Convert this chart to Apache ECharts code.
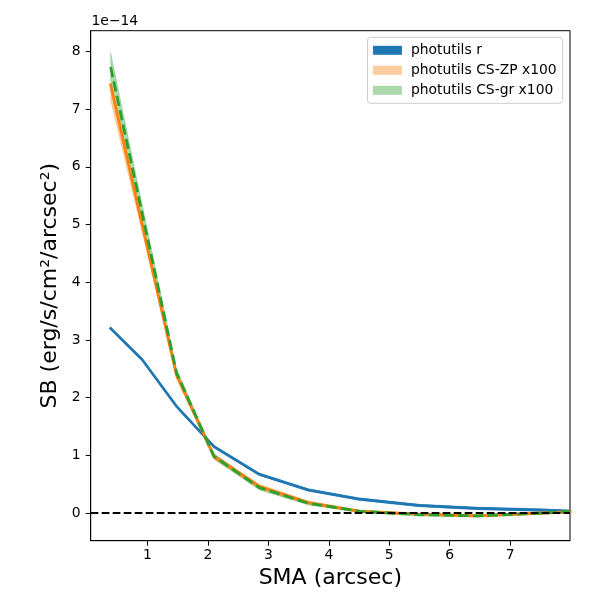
<!DOCTYPE html>
<html>
<head>
<meta charset="utf-8">
<script src="https://cdn.jsdelivr.net/npm/echarts@6/dist/echarts.min.js"></script>
<style>
  html, body { margin: 0; padding: 0; background: #fff; }
  #container { width: 600px; height: 600px; }
</style>
</head>
<body>
<div id="container"></div>
<script>
// SMA (arcsec) of the isophotes
const sma = [0.39, 0.91, 1.48, 2.10, 2.85, 3.66, 4.51, 5.50, 6.45, 7.55, 7.99];

// photutils r (units of 1e-14)
const rFlux = [3.20, 2.66, 1.85, 1.15, 0.67, 0.40, 0.24, 0.13, 0.08, 0.05, 0.03];
const rLo   = [3.18, 2.64, 1.83, 1.13, 0.65, 0.38, 0.22, 0.11, 0.06, 0.03, 0.01];
const rHi   = [3.22, 2.68, 1.87, 1.17, 0.69, 0.42, 0.26, 0.15, 0.10, 0.07, 0.05];

// photutils CS-ZP x100
const zpFlux = [7.42, 5.00, 2.39, 0.98, 0.46, 0.18, 0.03, -0.02, -0.05, 0.00, 0.02];
const zpLo   = [7.15, 4.88, 2.33, 0.94, 0.42, 0.15, 0.01, -0.04, -0.07, -0.02, 0.00];
const zpHi   = [7.45, 5.08, 2.45, 1.02, 0.50, 0.21, 0.05, 0.00, -0.03, 0.02, 0.04];

// photutils CS-gr x100
const grFlux = [7.73, 5.20, 2.43, 0.98, 0.44, 0.17, 0.03, -0.03, -0.05, 0.00, 0.03];
const grLo   = [7.50, 5.05, 2.36, 0.93, 0.40, 0.14, 0.01, -0.05, -0.07, -0.02, 0.01];
const grHi   = [7.98, 5.36, 2.50, 1.03, 0.48, 0.20, 0.05, -0.01, -0.03, 0.02, 0.05];

const xTicks = [1, 2, 3, 4, 5, 6, 7];
const yTicks = [0, 1, 2, 3, 4, 5, 6, 7, 8];
const zeroLevel = 0;

const FONT = 'DejaVu Sans';

var dom = document.getElementById('container');
var myChart = echarts.init(dom, null, { renderer: 'canvas' });

function pairs(xs, ys) {
  return xs.map((x, i) => [x, ys[i]]);
}

// filled band between lo and hi, drawn as one polygon
function band(name, lo, hi, fill) {
  return {
    name: name,
    type: 'custom',
    clip: true,
    itemStyle: { color: fill },
    silent: true,
    data: pairs(sma, hi),
    renderItem: function (params, api) {
      if (params.dataIndex !== 0) return;
      const pts = [];
      for (let i = 0; i < sma.length; i++) pts.push(api.coord([sma[i], hi[i]]));
      for (let i = sma.length - 1; i >= 0; i--) pts.push(api.coord([sma[i], lo[i]]));
      return {
        type: 'polygon',
        shape: { points: pts },
        style: { fill: fill, stroke: fill, lineWidth: 0.5 }
      };
    }
  };
}

function line(name, ys, color, width, dash) {
  return {
    name: name,
    type: 'line',
    data: pairs(sma, ys),
    showSymbol: false,
    symbol: 'none',
    silent: true,
    clip: true,
    lineStyle: { color: color, width: width, type: dash || 'solid', cap: dash ? 'butt' : 'square' }
  };
}

var option = {
  animation: false,
  grid: {
    left: 90.7, right: 30, top: 30.7, bottom: 59.3,
    show: true, borderColor: '#000', borderWidth: 1
  },
  xAxis: {
    type: 'value',
    min: 0.06,
    max: 7.99,
    name: 'SMA (arcsec)',
    nameLocation: 'middle',
    nameGap: 25,
    nameTextStyle: { fontFamily: FONT, fontSize: 22, color: '#000' },
    axisLine: { show: true, onZero: false, lineStyle: { color: '#000' } },
    axisTick: { show: true, length: 5, customValues: xTicks, lineStyle: { color: '#000' } },
    axisLabel: { customValues: xTicks, margin: 8, fontFamily: FONT, fontSize: 13.9, color: '#000' },
    splitLine: { show: false }
  },
  yAxis: {
    type: 'value',
    min: -0.48,
    max: 8.36,
    name: 'SB (erg/s/cm\u00b2/arcsec\u00b2)',
    nameLocation: 'middle',
    nameGap: 28,
    nameTextStyle: { fontFamily: FONT, fontSize: 22, color: '#000' },
    axisLine: { show: true, onZero: false, lineStyle: { color: '#000' } },
    axisTick: { show: true, length: 5, customValues: yTicks, lineStyle: { color: '#000' } },
    axisLabel: { customValues: yTicks, margin: 10, fontFamily: FONT, fontSize: 13.9, color: '#000' },
    splitLine: { show: false }
  },
  legend: {
    orient: 'vertical',
    right: 37.3,
    top: 37.3,
    padding: [6, 6, 6, 5.5],
    itemGap: 6,
    itemWidth: 29,
    itemHeight: 9,
    selectedMode: false,
    backgroundColor: '#fff',
    borderColor: '#cccccc',
    borderWidth: 1,
    borderRadius: 3,
    textStyle: { fontFamily: FONT, fontSize: 13.9, color: '#000', padding: [0, 0, 0, 4] },
    data: [
      { name: 'photutils r', icon: 'rect', itemStyle: { color: '#1f77b4' } },
      { name: 'photutils CS-ZP x100', icon: 'rect', itemStyle: { color: '#ffcc9f' } },
      { name: 'photutils CS-gr x100', icon: 'rect', itemStyle: { color: '#abd9ab' } }
    ]
  },
  graphic: [
    {
      type: 'text',
      left: 91.5,
      top: 14.5,
      style: { text: '1e\u221214', fontFamily: FONT, fontSize: 13.9, fill: '#000' }
    }
  ],
  series: [
    band('photutils CS-gr x100', grLo, grHi, 'rgba(44,160,44,0.4)'),
    band('photutils CS-ZP x100', zpLo, zpHi, 'rgba(255,127,14,0.4)'),
    band('photutils r', rLo, rHi, '#1f77b4'),
    line('r line', rFlux, '#1f77b4', 2.6),
    line('zp line', zpFlux, '#ff7f0e', 2.8),
    line('gr line', grFlux, '#2ca02c', 2.8, [10.3, 4.4]),
    {
      name: 'zero',
      type: 'line',
      data: [],
      silent: true,
      markLine: {
        silent: true,
        symbol: 'none',
        label: { show: false },
        animation: false,
        lineStyle: { color: '#000', width: 1.8, type: [7.7, 3.3] },
        data: [{ yAxis: zeroLevel }]
      }
    }
  ]
};

myChart.setOption(option);
window.addEventListener('resize', myChart.resize);
</script>
</body>
</html>
